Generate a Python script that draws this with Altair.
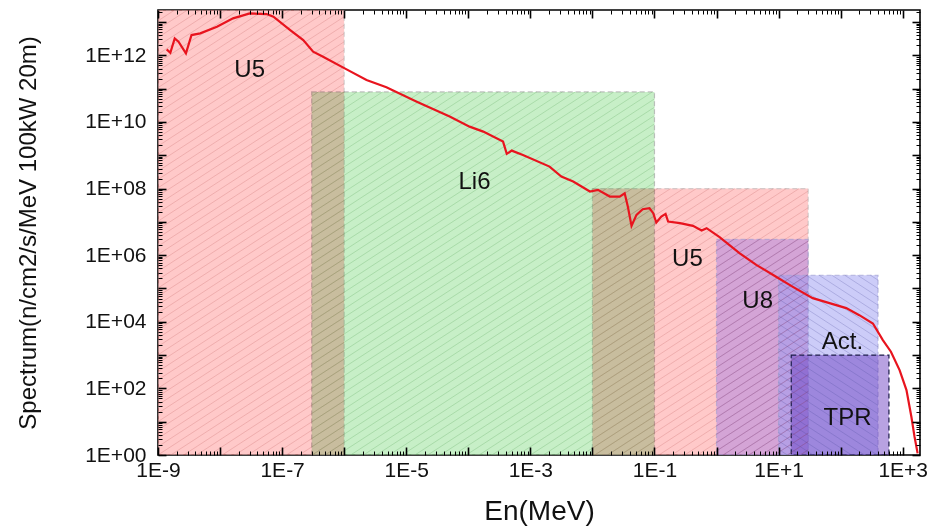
import math
import altair as alt
import pandas as pd

# ---------------- data ----------------
# neutron spectrum (red curve): energy in MeV, spectrum value
energy = [1.38e-9, 1.58e-9, 1.86e-9, 2.14e-9, 2.82e-9, 3.47e-9, 4.79e-9, 8.91e-9,
          1.62e-8, 3.02e-8, 5.62e-8, 7.24e-8, 1.35e-7, 2.19e-7, 3.16e-7, 4.57e-7,
          1.02e-6, 2.29e-6, 4.79e-6, 1.48e-5, 5.01e-5, 1.05e-4, 1.74e-4, 3.63e-4,
          4.17e-4, 5.01e-4, 7.59e-4, 2.04e-3, 3.16e-3, 4.90e-3, 9.12e-3, 1.23e-2,
          1.91e-2, 2.75e-2, 3.31e-2, 3.72e-2, 4.27e-2, 5.13e-2, 6.46e-2, 8.32e-2,
          9.55e-2, 0.107, 0.129, 0.151, 0.166, 0.257, 0.417, 0.575,
          0.692, 1.12, 2.34, 4.37, 9.12, 17.0, 35.5, 66.1,
          123, 200, 331, 479, 646, 891, 1150, 1380, 1550, 1740]
flux = [1.51e12, 1.20e12, 3.24e12, 2.57e12, 1.15e12, 4.07e12, 4.57e12, 7.24e12,
        1.29e13, 1.82e13, 1.74e13, 1.45e13, 5.75e12, 2.88e12, 1.29e12, 9.12e11,
        4.07e11, 1.82e11, 1.10e11, 4.07e10, 1.45e10, 7.24e9, 5.13e9, 2.57e9,
        1.10e9, 1.38e9, 1.02e9, 4.57e8, 2.29e8, 1.62e8, 8.13e7, 9.12e7,
        5.75e7, 5.75e7, 7.24e7, 2.88e7, 7.59e6, 1.62e7, 2.40e7, 2.57e7,
        1.82e7, 9.55e6, 1.45e7, 1.74e7, 1.02e7, 9.12e6, 7.59e6, 5.50e6,
        6.46e6, 3.47e6, 1.15e6, 5.13e5, 2.24e5, 1.12e5, 5.13e4, 3.63e4,
        2.57e4, 1.58e4, 8.91e3, 2.82e3, 1.26e3, 355, 89.1, 14.1, 3.55, 1.12]

# detector response ranges (shaded boxes)
box_names = ["U5", "Li6", "U5", "U8", "Act.", "TPR"]
box_emin = [1e-9, 3e-7, 1e-2, 1.0, 10.0, 16.0]
box_emax = [1e-6, 0.1, 30.0, 30.0, 400.0, 600.0]
box_bottom = [1.0, 1.0, 1.0, 1.0, 1.0, 1.0]
box_top = [2.3e13, 8e10, 1e8, 3e6, 2.5e5, 1e3]

# box labels
label_text = ["U5", "Li6", "U5", "U8", "Act.", "TPR"]
label_e = [3e-8, 1.26e-4, 0.34, 4.6, 107, 129]
label_flux = [3.6e11, 1.6e8, 7.7e5, 4.2e4, 2.5e3, 13]

# axis ticks
x_major = [10.0 ** k for k in range(-9, 4)]
x_minor = [m * 10.0 ** k for k in range(-9, 4) for m in range(2, 10) if m * 10.0 ** k <= 1.9e3]
y_major = [10.0 ** k for k in range(0, 14)]
y_minor = [m * 10.0 ** k for k in range(0, 14) for m in range(2, 10) if m * 10.0 ** k <= 2.3e13]

# ---------------- styles ----------------
FONT = "Liberation Sans"
W, H = 762, 445
XDOM = [1e-9, 1.9e3]
YDOM = [1.0, 2.3e13]
box_fill = ["#ff9494", "#8fe08f", "#ff9494", "#a078e6", "#9a9af2", "#6a3cc0"]
box_fop = [0.5, 0.5, 0.5, 0.45, 0.5, 0.48]
box_group = ["soft", "soft", "soft", "violet", "violet", "violet"]
box_stroke = ["#b8b8b8", "#a8a8a8", "#b8b8b8", "#a0a0d0", "#a0a0d0", "#1c1c48"]
box_sop = [0.6, 0.7, 0.6, 0.6, 0.7, 1.0]
hatch_col = ["#c05a5a", "#4f9f4f", "#c05a5a", "#5a3aa0", "#4a4a9a", None]
hatch_slope = [0.65, 0.65, 0.65, 0.65, -0.65, None]
HATCH_GAP = 7.0

lx0, lx1 = math.log10(XDOM[0]), math.log10(XDOM[1])
ly0, ly1 = math.log10(YDOM[0]), math.log10(YDOM[1])


def to_px(e, f):
    return ((math.log10(e) - lx0) / (lx1 - lx0) * W, (math.log10(f) - ly0) / (ly1 - ly0) * H)


def to_data(px, py):
    return (10 ** (lx0 + px / W * (lx1 - lx0)), 10 ** (ly0 + py / H * (ly1 - ly0)))


def hatch(e0, e1, f0, f1, slope, gap):
    X0, Y0 = to_px(e0, f0)
    X1, Y1 = to_px(e1, f1)
    step = gap * math.sqrt(1 + slope ** 2)
    cs = [y - slope * x for x in (X0, X1) for y in (Y0, Y1)]
    segs = []
    for k in range(math.floor(min(cs) / step), math.ceil(max(cs) / step) + 1):
        c = k * step
        if slope > 0:
            xa, xb = (Y0 - c) / slope, (Y1 - c) / slope
        else:
            xa, xb = (Y1 - c) / slope, (Y0 - c) / slope
        xa, xb = max(xa, X0), min(xb, X1)
        if xb - xa > 0.5:
            a = to_data(xa, xa * slope + c)
            b = to_data(xb, xb * slope + c)
            segs.append((a[0], a[1], b[0], b[1]))
    return segs


box_df = pd.DataFrame({
    "name": box_names, "e0": box_emin, "e1": box_emax, "f0": box_bottom, "f1": box_top,
    "fill": box_fill, "fop": box_fop, "stroke": box_stroke, "sop": box_sop,
    "group": box_group,
})

rows = []
for i in range(len(box_names)):
    if hatch_slope[i] is None:
        continue
    for s in hatch(box_emin[i], box_emax[i], box_bottom[i], box_top[i], hatch_slope[i], HATCH_GAP):
        rows.append({"x": s[0], "y": s[1], "x2": s[2], "y2": s[3], "col": hatch_col[i]})
hatch_df = pd.DataFrame(rows)

line_df = pd.DataFrame({"E": energy, "F": flux})
label_df = pd.DataFrame({"label": label_text, "E": label_e, "F": label_flux})

xs = alt.Scale(type="log", domain=XDOM, nice=False)
ys = alt.Scale(type="log", domain=YDOM, nice=False)

x_label_expr = ("abs(round(log(datum.value)/LN10) % 2) == 1 ? "
                "('1E' + (datum.value < 1 ? '' : '+') + round(log(datum.value)/LN10)) : ''")
y_label_expr = ("round(log(datum.value)/LN10) % 2 == 0 ? "
                "('1E+' + (datum.value < 1e10 ? '0' : '') + round(log(datum.value)/LN10)) : ''")

x_main = alt.Axis(orient="bottom", offset=-8, ticks=True, tickSize=8, tickWidth=1.6,
                  tickColor="black", values=x_major, labelExpr=x_label_expr, labelFont=FONT,
                  labelFontSize=21, labelColor="#111111", labelPadding=4, labelOverlap=False,
                  labelFlush=False, labelBound=False, domain=False, grid=False,
                  title="En(MeV)", titleFont=FONT, titleFontSize=28, titleFontWeight="normal",
                  titleColor="#111111", titlePadding=17, zindex=2)
y_main = alt.Axis(orient="left", offset=-8, ticks=True, tickSize=8, tickWidth=1.6,
                  tickColor="black", values=y_major, labelExpr=y_label_expr, labelFont=FONT,
                  labelFontSize=21, labelColor="#111111", labelPadding=12, labelOverlap=False,
                  labelFlush=False, labelBound=False, domain=False, grid=False,
                  title="Spectrum(n/cm2/s/MeV 100kW 20m)", titleFont=FONT, titleFontSize=24,
                  titleFontWeight="normal", titleColor="#111111", titlePadding=44, zindex=2)


def tick_axis(orient, vals, size, width):
    return alt.Axis(orient=orient, offset=-size, ticks=True, tickSize=size, tickWidth=width,
                    tickColor="black", values=vals, labels=False, domain=False,
                    grid=False, title=None, zindex=2)


enc_rect = dict(
    x2="e1:Q", y2="f1:Q",
    fill=alt.Fill("fill:N", scale=None),
    fillOpacity=alt.FillOpacity("fop:Q", scale=None),
    stroke=alt.Stroke("stroke:N", scale=None),
    strokeOpacity=alt.StrokeOpacity("sop:Q", scale=None),
)

rects_soft = alt.Chart(box_df).transform_filter("datum.group == 'soft'").mark_rect(
    strokeDash=[5, 3], strokeWidth=1.2, clip=True, blend="multiply"
).encode(
    x=alt.X("e0:Q", scale=xs, axis=x_main),
    y=alt.Y("f0:Q", scale=ys, axis=y_main),
    **enc_rect,
)

rects_violet = alt.Chart(box_df).transform_filter("datum.group == 'violet'").mark_rect(
    strokeDash=[5, 3], strokeWidth=1.2, clip=True
).encode(
    x=alt.X("e0:Q", scale=xs, axis=None),
    y=alt.Y("f0:Q", scale=ys, axis=None),
    **enc_rect,
)

hatches = alt.Chart(hatch_df).mark_rule(strokeWidth=1, opacity=0.25, clip=True).encode(
    x=alt.X("x:Q", scale=xs, axis=tick_axis("bottom", x_minor, 4, 1)), x2="x2:Q",
    y=alt.Y("y:Q", scale=ys, axis=tick_axis("left", y_minor, 4, 1)), y2="y2:Q",
    color=alt.Color("col:N", scale=None),
)

line = alt.Chart(line_df).mark_line(color="#e8141e", strokeWidth=2.2, clip=True).encode(
    x=alt.X("E:Q", scale=xs, axis=tick_axis("top", x_major, 8, 1.6)),
    y=alt.Y("F:Q", scale=ys, axis=tick_axis("right", y_major, 8, 1.6)),
)

labels = alt.Chart(label_df).mark_text(font=FONT, fontSize=24, color="#111111").encode(
    x=alt.X("E:Q", scale=xs, axis=tick_axis("top", x_minor, 4, 1)),
    y=alt.Y("F:Q", scale=ys, axis=tick_axis("right", y_minor, 4, 1)),
    text="label:N",
)

chart = alt.layer(rects_soft, rects_violet, hatches, line, labels).resolve_axis(
    x="independent", y="independent"
).properties(
    width=W, height=H,
    padding={"left": 158, "top": 10, "right": 18, "bottom": 74},
    autosize=alt.AutoSizeParams(type="none"),
    background="white",
).configure_view(stroke="black", strokeWidth=1.6)

chart.save("out.html", embed_options={"renderer": "svg", "actions": False})
